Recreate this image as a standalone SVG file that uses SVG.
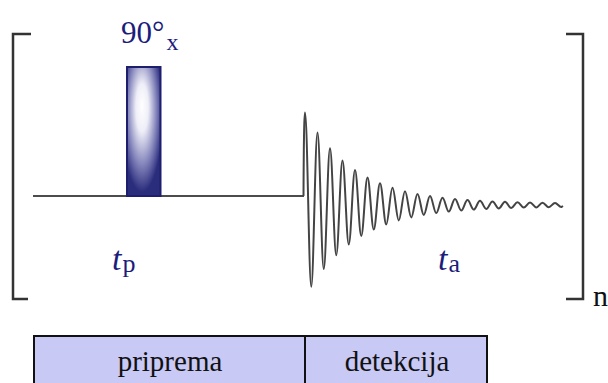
<svg xmlns="http://www.w3.org/2000/svg" width="608" height="383" viewBox="0 0 608 383">
<style>
.br{fill:none;stroke:#333;stroke-width:2.5}
.serif{font-family:'Liberation Serif','Times New Roman','DejaVu Serif',serif}
.lbl{fill:#1c1c7c}
.tbl{fill:#111;font-size:29px}
.cell{fill:#c8c9f5;stroke:#111;stroke-width:2}
</style>
<defs>
<radialGradient id="pg" cx="0.45" cy="0.35" r="0.62" fx="0.45" fy="0.3">
<stop offset="0" stop-color="#ffffff"/>
<stop offset="0.3" stop-color="#eeeef8"/>
<stop offset="0.7" stop-color="#7f80b8"/>
<stop offset="1" stop-color="#2a2c7c"/>
</radialGradient>
</defs>
<rect width="608" height="383" fill="#fff"/>
<g id="brackets">
<path class="br" d="M31,34 H13 V299 H28"/>
<path class="br" d="M566,34 H583 V299 H566"/>
<text class="serif" x="593" y="306" font-size="30" fill="#111">n</text>
</g>
<g id="connectors">
<path d="M33,196 H304" fill="none" stroke="#111" stroke-width="1.6"/>
<path fill="none" stroke="#444" stroke-width="2" stroke-linejoin="round" d="M303.5,196 C303.8,130 304.4,112.5 305,112.5 C307.3,112.5 309,286.8 311.25,286.8 S315.2,132.6 317.5,132.6 S321.5,269 323.75,269 S327.7,148.3 330,148.3 S334,255.2 336.25,255.2 S340.2,160.5 342.5,160.5 S346.5,244.4 348.75,244.4 S352.7,170 355,170 S359,236 361.25,236 S365.2,177.4 367.5,177.4 S371.5,229.5 373.75,229.5 S377.7,183.2 380,183.2 S384,224.4 386.25,224.4 S390.2,187.7 392.5,187.7 S396.5,220.5 398.75,220.5 S402.7,191.2 405,191.2 S409,217.4 411.25,217.4 S415.2,193.9 417.5,193.9 S421.5,215 423.75,215 S427.7,196 430,196 S434,213.1 436.25,213.1 S440.2,197.7 442.5,197.7 S446.5,211.6 448.75,211.6 S452.7,199 455,199 S459,210.5 461.25,210.5 S465.2,200 467.5,200 S471.5,209.6 473.75,209.6 S477.7,200.8 480,200.8 S484,208.9 486.25,208.9 S490.2,201.4 492.5,201.4 S496.5,208.4 498.75,208.4 S502.7,201.8 505,201.8 S509,208 511.25,208 S515.2,202.2 517.5,202.2 S521.5,207.6 523.75,207.6 S527.7,202.5 530,202.5 S534,207.4 536.25,207.4 S540.2,202.7 542.5,202.7 S546.5,207.2 548.75,207.2 S552.7,202.9 555,202.9 S559,207.1 561.25,207.1 L563,206"/>
</g>
<g id="pulse">
<rect x="127" y="67" width="33.5" height="129" fill="url(#pg)" stroke="#1e1e6e" stroke-width="2"/>
<text class="serif lbl" x="121" y="43" font-size="31">90°<tspan font-size="24" dx="2" dy="7">x</tspan></text>
</g>
<g id="tp">
<text class="serif lbl" x="112" y="270" font-size="34"><tspan font-style="italic">t</tspan><tspan font-size="26" dx="1" dy="2">p</tspan></text>
</g>
<g id="ta">
<text class="serif lbl" x="438" y="270" font-size="34"><tspan font-style="italic">t</tspan><tspan font-size="26" dx="1" dy="2">a</tspan></text>
</g>
<g id="priprema">
<rect class="cell" x="34" y="336" width="271" height="60"/>
<text class="serif tbl" x="170" y="371" text-anchor="middle">priprema</text>
</g>
<g id="detekcija">
<rect class="cell" x="305" y="336" width="182" height="60"/>
<text class="serif tbl" x="397" y="371" text-anchor="middle">detekcija</text>
</g>
</svg>
